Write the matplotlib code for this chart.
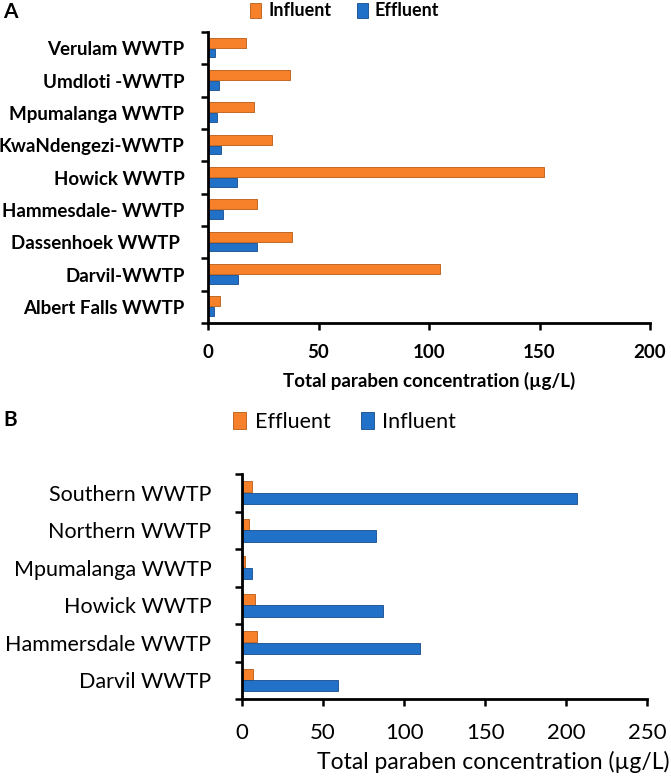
import matplotlib.pyplot as plt
import numpy as np

# Panel A data (top to bottom)
plants_a = ['Verulam WWTP', 'Umdloti -WWTP', 'Mpumalanga WWTP', 'KwaNdengezi-WWTP',
            'Howick WWTP', 'Hammesdale- WWTP', 'Dassenhoek WWTP ', 'Darvil-WWTP',
            'Albert Falls WWTP']
influent_a = [17, 37, 21, 29, 152, 22, 38, 105, 5.5]
effluent_a = [3, 5, 4, 6, 13, 7, 22, 13.5, 2.5]

# Panel B data (top to bottom)
plants_b = ['Southern WWTP', 'Northern WWTP', 'Mpumalanga WWTP', 'Howick WWTP',
            'Hammersdale WWTP', 'Darvil WWTP']
effluent_b = [6, 4, 2, 8, 9.5, 6.5]
influent_b = [207, 83, 6, 87, 110, 59]

ORANGE = '#F7802A'
ORANGE_DK = '#B85A12'
BLUE = '#2171C8'
BLUE_DK = '#154C8C'

plt.rcParams['font.family'] = ['Lato', 'DejaVu Sans']

fig = plt.figure(figsize=(6.71, 7.81), dpi=100)


def style_axis(ax, n, xmax, step, tick_fs, weight, pad, xpad):
    ax.set_xlim(0, xmax)
    ax.set_ylim(n - 0.5, -0.5)
    ax.set_xticks(np.arange(0, xmax + 1, step))
    ax.set_yticks(np.arange(n))
    ax.set_yticks(np.arange(n + 1) - 0.5, minor=True)
    ax.tick_params(axis='y', which='major', length=0, pad=pad)
    ax.tick_params(axis='y', which='minor', length=5, width=1.8, direction='out')
    ax.tick_params(axis='x', length=5, width=1.8, direction='out', pad=xpad,
                   labelsize=tick_fs)
    for lab in ax.get_xticklabels():
        lab.set_fontweight(weight)
    for s in ['top', 'right']:
        ax.spines[s].set_visible(False)
    for s in ['left', 'bottom']:
        ax.spines[s].set_linewidth(2)


# --- Panel A ---
axA = fig.add_axes([0.310, 0.5864, 0.6587, 0.3726])
y = np.arange(len(plants_a))
h = 0.31
bi = axA.barh(y - 0.17, influent_a, height=h, color=ORANGE, edgecolor=ORANGE_DK,
              linewidth=0.6, label='Influent')
be = axA.barh(y + 0.15, effluent_a, height=h * 0.85, color=BLUE, edgecolor=BLUE_DK,
              linewidth=0.6, label='Effluent')
style_axis(axA, len(plants_a), 200, 50, 13.5, 'bold', 17, 10)
axA.set_yticklabels(plants_a, fontsize=13.5, fontweight='bold')
axA.set_xlabel('Total paraben concentration (µg/L)', fontsize=13.5, fontweight='bold',
               labelpad=8)
axA.legend(handles=[bi, be], loc='center', bbox_to_anchor=(0.514, 0.986),
           bbox_transform=fig.transFigure, ncol=2, frameon=False,
           handlelength=0.6, handleheight=0.9, handletextpad=0.4, columnspacing=1.4,
           prop={'size': 13, 'weight': 'bold'})
fig.text(0.005, 0.985, 'A', fontsize=15, fontweight='bold', va='center')

# --- Panel B ---
axB = fig.add_axes([0.3607, 0.105, 0.6036, 0.288])
y = np.arange(len(plants_b))
h = 0.3
ce = axB.barh(y - 0.16, effluent_b, height=h, color=ORANGE, edgecolor=ORANGE_DK,
              linewidth=0.6, label='Effluent')
ci = axB.barh(y + 0.15, influent_b, height=h, color=BLUE, edgecolor=BLUE_DK,
              linewidth=0.6, label='Influent')
style_axis(axB, len(plants_b), 250, 50, 16, 'normal', 22, 12)
axB.set_yticklabels(plants_b, fontsize=15.5)
axB.legend(handles=[ce, ci], loc='center', bbox_to_anchor=(0.514, 0.46),
           bbox_transform=fig.transFigure, ncol=2, frameon=False,
           handlelength=0.6, handleheight=0.9, handletextpad=0.4, columnspacing=1.4,
           prop={'size': 15.5})
fig.text(0.998, 0.024, 'Total paraben concentration (µg/L)', fontsize=16.5,
         ha='right', va='center')
fig.text(0.005, 0.462, 'B', fontsize=15, fontweight='bold', va='center')

fig.savefig('out.png', dpi=100)
